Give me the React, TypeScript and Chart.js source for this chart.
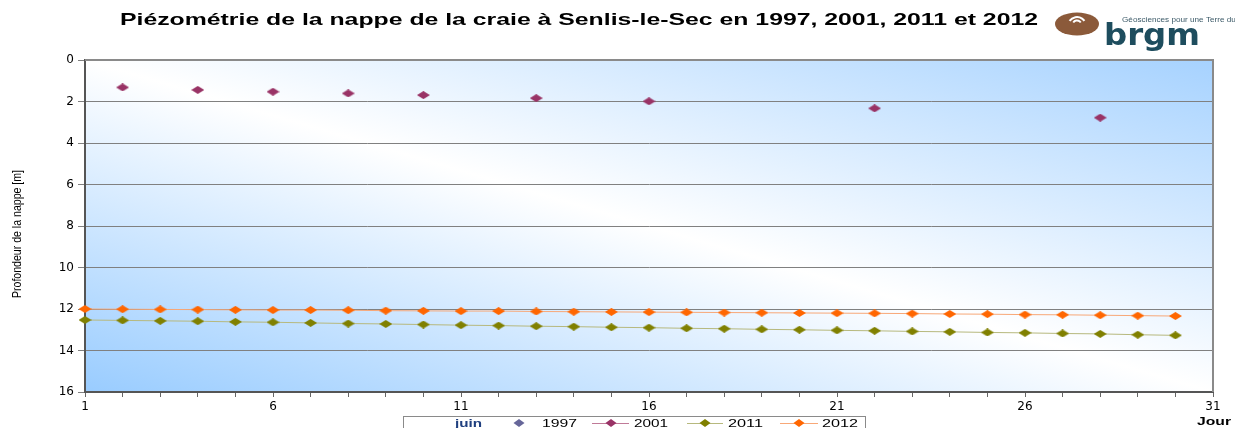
import React, { useEffect, useRef } from 'react';
import { Chart, registerables } from 'chart.js';

Chart.register(...registerables);

// ---- data ----
const days = [1, 2, 3, 4, 5, 6, 7, 8, 9, 10, 11, 12, 13, 14, 15, 16, 17, 18, 19, 20, 21, 22, 23, 24, 25, 26, 27, 28, 29, 30];
const days2001 = [2, 4, 6, 8, 10, 13, 16, 22, 28];
const values2001 = [1.32, 1.44, 1.53, 1.61, 1.69, 1.84, 1.99, 2.33, 2.78];
const values2011 = [12.53, 12.55, 12.57, 12.59, 12.62, 12.64, 12.67, 12.70, 12.72, 12.75, 12.78, 12.80, 12.83, 12.85, 12.88, 12.90, 12.93, 12.95, 12.98, 13.00, 13.03, 13.05, 13.08, 13.10, 13.13, 13.15, 13.18, 13.20, 13.24, 13.27];
const values2012 = [12.00, 12.01, 12.02, 12.03, 12.04, 12.05, 12.05, 12.06, 12.08, 12.09, 12.10, 12.10, 12.12, 12.13, 12.14, 12.15, 12.16, 12.17, 12.18, 12.19, 12.20, 12.21, 12.22, 12.24, 12.25, 12.27, 12.28, 12.30, 12.32, 12.34];
const values1997: number[] = [];
const xTickLabels = [1, 6, 11, 16, 21, 26, 31];
const seriesLabels = ['1997', '2001', '2011', '2012'];

const TITLE = 'Piézométrie de la nappe de la craie à Senlis-le-Sec en 1997, 2001, 2011 et 2012';
const Y_TITLE = 'Profondeur de la nappe [m]';

const C1997 = '#666699';
const C2001 = '#993366';
const C2011 = '#808000';
const C2012 = '#FF6600';
const L2001 = '#C07A98';
const L2011 = '#B7B97E';
const L2012 = '#F8A878';

function makeDiamond(color: string, w: number, h: number) {
  const c = document.createElement('canvas');
  c.width = w;
  c.height = h;
  const ctx = c.getContext('2d')!;
  ctx.fillStyle = color;
  ctx.beginPath();
  ctx.moveTo(w / 2, 0);
  ctx.lineTo(w, h / 2);
  ctx.lineTo(w / 2, h);
  ctx.lineTo(0, h / 2);
  ctx.closePath();
  ctx.fill();
  return c;
}

function fitText(ctx: CanvasRenderingContext2D, text: string, x: number, y: number, w: number, font: string, color: string) {
  ctx.save();
  ctx.font = font;
  ctx.fillStyle = color;
  ctx.textAlign = 'left';
  ctx.textBaseline = 'alphabetic';
  const m = ctx.measureText(text).width;
  ctx.translate(x, y);
  ctx.scale(w / m, 1);
  ctx.fillText(text, 0, 0);
  ctx.restore();
}

const decorPlugin = {
  id: 'decor',
  beforeDraw(chart: any) {
    const { ctx, chartArea: a } = chart;
    ctx.save();
    ctx.fillStyle = '#ffffff';
    ctx.fillRect(0, 0, chart.width, chart.height);
    const cx = (a.left + a.right) / 2;
    const cy = (a.top + a.bottom) / 2;
    const dx = a.right - a.left;
    const dy = a.bottom - a.top;
    const len = Math.hypot(dx, dy);
    const nx = dy / len;
    const ny = -dx / len;
    const k = (a.left - cx) * nx + (a.bottom - cy) * ny;
    const g = ctx.createLinearGradient(cx + k * nx, cy + k * ny, cx - k * nx, cy - k * ny);
    g.addColorStop(0, '#99CCFF');
    g.addColorStop(0.5, '#FFFFFF');
    g.addColorStop(1, '#A6D2FF');
    ctx.fillStyle = g;
    ctx.fillRect(a.left, a.top, dx, dy);
    ctx.restore();
  },
  afterDraw(chart: any) {
    const { ctx, chartArea: a } = chart;
    ctx.save();
    // top & right border
    ctx.strokeStyle = '#8a8a8a';
    ctx.lineWidth = 2;
    ctx.beginPath();
    ctx.moveTo(a.left, a.top);
    ctx.lineTo(a.right, a.top);
    ctx.lineTo(a.right, a.bottom);
    ctx.stroke();

    // title
    fitText(ctx, TITLE, 120, 25, 918, 'bold 17px "Liberation Sans"', '#000000');

    // y title
    ctx.save();
    ctx.translate(21, 298);
    ctx.rotate(-Math.PI / 2);
    fitText(ctx, Y_TITLE, 0, 0, 128, '12.5px "Liberation Sans Narrow", "Liberation Sans"', '#000000');
    ctx.restore();

    // Jour
    fitText(ctx, 'Jour', 1197, 425, 34, 'bold 11px "Liberation Sans"', '#000000');

    // logo
    ctx.fillStyle = '#8B5A3A';
    ctx.beginPath();
    ctx.ellipse(1077, 24, 22, 11.5, 0, 0, Math.PI * 2);
    ctx.fill();
    ctx.strokeStyle = '#ffffff';
    ctx.lineWidth = 2;
    ctx.beginPath();
    ctx.arc(1077, 25, 4.5, Math.PI + 0.6, Math.PI * 2 - 0.6);
    ctx.stroke();
    ctx.beginPath();
    ctx.arc(1077, 26, 9, Math.PI + 0.6, Math.PI * 2 - 0.6);
    ctx.stroke();
    fitText(ctx, 'brgm', 1104, 45, 96, 'bold 30px "DejaVu Sans"', '#1E4D5E');
    fitText(ctx, 'Géosciences pour une Terre durable', 1122, 22, 132, '7px "Liberation Sans"', '#3C5A68');

    // legend
    ctx.strokeStyle = '#8a8a8a';
    ctx.lineWidth = 1;
    ctx.strokeRect(403.5, 416.5, 462, 20);
    const ly = 423;
    fitText(ctx, 'juin', 455, 427, 27, 'bold 11px "Liberation Sans"', '#1F3F7F');
    const mk = (color: string, x: number) => {
      ctx.fillStyle = color;
      ctx.beginPath();
      ctx.moveTo(x, ly - 4);
      ctx.lineTo(x + 5.5, ly);
      ctx.lineTo(x, ly + 4);
      ctx.lineTo(x - 5.5, ly);
      ctx.closePath();
      ctx.fill();
    };
    const ln = (color: string, x0: number, x1: number) => {
      ctx.strokeStyle = color;
      ctx.lineWidth = 1;
      ctx.beginPath();
      ctx.moveTo(x0, ly + 0.5);
      ctx.lineTo(x1, ly + 0.5);
      ctx.stroke();
    };
    mk(C1997, 519);
    fitText(ctx, seriesLabels[0], 542, 427, 35, '11.5px "Liberation Sans"', '#000000');
    ln(L2001, 592, 629);
    mk(C2001, 611);
    fitText(ctx, seriesLabels[1], 634, 427, 34, '11.5px "Liberation Sans"', '#000000');
    ln(L2011, 687, 723);
    mk(C2011, 705);
    fitText(ctx, seriesLabels[2], 728, 427, 35, '11.5px "Liberation Sans"', '#000000');
    ln(L2012, 780, 818);
    mk(C2012, 799);
    fitText(ctx, seriesLabels[3], 822, 427, 36, '11.5px "Liberation Sans"', '#000000');
    ctx.restore();
  },
};

export default function App() {
  const ref = useRef<HTMLCanvasElement | null>(null);

  useEffect(() => {
    if (!ref.current) return;
    const d2001 = makeDiamond(C2001, 13, 8);
    const d2011 = makeDiamond(C2011, 13, 8);
    const d2012 = makeDiamond(C2012, 13, 8);
    const chart = new Chart(ref.current, {
      type: 'line',
      data: {
        datasets: [
          {
            label: seriesLabels[0],
            data: values1997.map((v, i) => ({ x: days[i], y: v })),
            borderColor: C1997,
            backgroundColor: C1997,
            showLine: false,
          },
          {
            label: seriesLabels[1],
            data: days2001.map((d, i) => ({ x: d, y: values2001[i] })),
            borderColor: L2001,
            backgroundColor: C2001,
            showLine: false,
            pointStyle: d2001 as any,
            clip: false as any,
          },
          {
            label: seriesLabels[2],
            data: days.map((d, i) => ({ x: d, y: values2011[i] })),
            borderColor: L2011,
            borderWidth: 1,
            backgroundColor: C2011,
            pointStyle: d2011 as any,
            clip: false as any,
          },
          {
            label: seriesLabels[3],
            data: days.map((d, i) => ({ x: d, y: values2012[i] })),
            borderColor: L2012,
            borderWidth: 1,
            backgroundColor: C2012,
            pointStyle: d2012 as any,
            clip: false as any,
          },
        ],
      },
      options: {
        animation: false,
        responsive: false,
        layout: { padding: { top: 60, right: 22, bottom: 0, left: 0 } },
        plugins: {
          legend: { display: false },
          tooltip: { enabled: false },
          title: { display: false },
        },
        scales: {
          x: {
            type: 'linear',
            min: 1,
            max: 31,
            afterFit: (s: any) => { s.height = 36; },
            border: { color: '#555555', width: 2 },
            grid: { drawOnChartArea: false, drawTicks: true, tickLength: 5, color: '#666666' },
            ticks: {
              stepSize: 1,
              autoSkip: false,
              maxRotation: 0,
              padding: 3,
              color: '#000000',
              font: { family: 'DejaVu Sans', size: 12 },
              callback: (v: any) => (xTickLabels.includes(Number(v)) ? String(v) : ''),
            },
          },
          y: {
            type: 'linear',
            reverse: true,
            min: 0,
            max: 16,
            afterFit: (s: any) => { s.width = 85; },
            border: { color: '#555555', width: 2 },
            grid: { color: '#808080', lineWidth: 1, tickLength: 7, tickColor: '#808080' },
            ticks: {
              stepSize: 2,
              padding: 4,
              color: '#000000',
              font: { family: 'DejaVu Sans', size: 12 },
            },
          },
        },
      },
      plugins: [decorPlugin],
    } as any);
    return () => chart.destroy();
  }, []);

  return (
    <div style={{ position: 'fixed', left: 0, top: 0, width: 1235, height: 428, background: '#fff' }}>
      <canvas ref={ref} width={1235} height={428} style={{ display: 'block', width: 1235, height: 428 }} />
    </div>
  );
}
